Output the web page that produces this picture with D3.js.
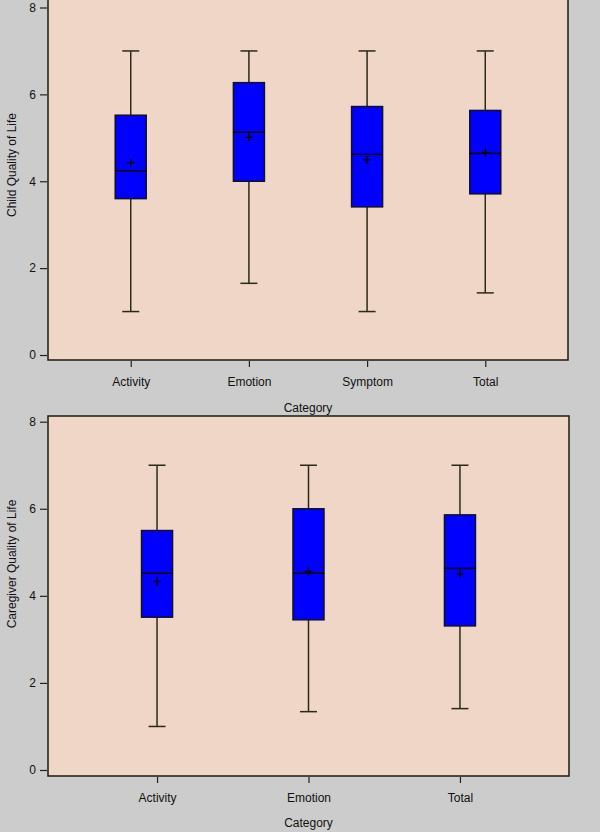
<!DOCTYPE html>
<html>
<head>
<meta charset="utf-8">
<script src="https://cdn.jsdelivr.net/npm/d3@7"></script>
<style>
  html, body { margin: 0; padding: 0; background: #cccccc; }
  svg { display: block; }
  text { font-family: "Liberation Sans", Arial, sans-serif; fill: #111; }
</style>
</head>
<body>
<svg id="chart" width="600" height="832"></svg>
<script>
// ---- Data ----
const yTicks = [0, 2, 4, 6, 8];

const childCategories = ["Activity", "Emotion", "Symptom", "Total"];
const childMin    = [1.0, 1.65, 1.0, 1.43];
const childQ1     = [3.6, 4.0, 3.41, 3.71];
const childMedian = [4.24, 5.13, 4.62, 4.64];
const childQ3     = [5.52, 6.27, 5.72, 5.63];
const childMax    = [7.0, 7.0, 7.0, 7.0];
const childMean   = [4.43, 5.01, 4.49, 4.66];

const careCategories = ["Activity", "Emotion", "Total"];
const careMin    = [1.0, 1.34, 1.41];
const careQ1     = [3.51, 3.45, 3.31];
const careMedian = [4.52, 4.52, 4.63];
const careQ3     = [5.5, 6.0, 5.86];
const careMax    = [7.0, 7.0, 7.0];
const careMean   = [4.33, 4.56, 4.5];

const svg = d3.select("#chart");

function drawPanel(cfg) {
  const g = svg.append("g");
  const x = d3.scalePoint().domain(cfg.categories).range([cfg.left, cfg.right]).padding(cfg.padding);
  const y = d3.scaleLinear().domain([0, 8]).range([cfg.y0, cfg.y8]);

  // plot background
  g.append("rect")
    .attr("x", cfg.left).attr("y", cfg.top)
    .attr("width", cfg.right - cfg.left).attr("height", cfg.bottom - cfg.top)
    .attr("fill", "#f0d6c6").attr("stroke", "#1a1a10").attr("stroke-width", 1.5);

  // y axis
  const yAxis = d3.axisLeft(y).tickValues(yTicks).tickSize(7).tickPadding(4).tickFormat(d3.format("d"));
  const ya = g.append("g").attr("transform", `translate(${cfg.left - 1},0)`).call(yAxis);
  ya.select(".domain").remove();
  ya.selectAll("line").attr("stroke", "#222").attr("stroke-width", 1.2);
  ya.selectAll("text").attr("font-size", 12).attr("fill", "#111");

  // x axis
  const xAxis = d3.axisBottom(x).tickSize(6).tickPadding(10);
  const xa = g.append("g").attr("transform", `translate(0,${cfg.bottom + 1})`).call(xAxis);
  xa.select(".domain").remove();
  xa.selectAll("line").attr("stroke", "#222").attr("stroke-width", 1.2);
  xa.selectAll("text").attr("font-size", 12).attr("fill", "#111");

  // titles
  g.append("text")
    .attr("transform", `translate(16,${cfg.yTitleY}) rotate(-90)`)
    .attr("text-anchor", "middle").attr("font-size", 12)
    .text(cfg.yTitle);
  g.append("text")
    .attr("x", (cfg.left + cfg.right) / 2).attr("y", cfg.xTitleY)
    .attr("text-anchor", "middle").attr("font-size", 12)
    .text("Category");

  const boxW = 31, capW = 17, crossR = 4;
  const data = cfg.categories.map((c, i) => ({
    c, min: cfg.min[i], q1: cfg.q1[i], med: cfg.median[i], q3: cfg.q3[i], max: cfg.max[i], mean: cfg.mean[i]
  }));

  const b = g.selectAll(".box").data(data).enter().append("g").attr("class", "box");
  const lineColor = "#2a2a1a";
  // whiskers
  b.append("line").attr("x1", d => x(d.c)).attr("x2", d => x(d.c))
    .attr("y1", d => y(d.max)).attr("y2", d => y(d.q3))
    .attr("stroke", lineColor).attr("stroke-width", 1.5);
  b.append("line").attr("x1", d => x(d.c)).attr("x2", d => x(d.c))
    .attr("y1", d => y(d.q1)).attr("y2", d => y(d.min))
    .attr("stroke", lineColor).attr("stroke-width", 1.5);
  // caps
  b.append("line").attr("x1", d => x(d.c) - capW / 2).attr("x2", d => x(d.c) + capW / 2)
    .attr("y1", d => y(d.max)).attr("y2", d => y(d.max))
    .attr("stroke", lineColor).attr("stroke-width", 1.5);
  b.append("line").attr("x1", d => x(d.c) - capW / 2).attr("x2", d => x(d.c) + capW / 2)
    .attr("y1", d => y(d.min)).attr("y2", d => y(d.min))
    .attr("stroke", lineColor).attr("stroke-width", 1.5);
  // box
  b.append("rect").attr("x", d => x(d.c) - boxW / 2).attr("width", boxW)
    .attr("y", d => y(d.q3)).attr("height", d => y(d.q1) - y(d.q3))
    .attr("fill", "#0000ff").attr("stroke", "#111122").attr("stroke-width", 1.5);
  // median
  b.append("line").attr("x1", d => x(d.c) - boxW / 2).attr("x2", d => x(d.c) + boxW / 2)
    .attr("y1", d => y(d.med)).attr("y2", d => y(d.med))
    .attr("stroke", "#000").attr("stroke-width", 1.5);
  // mean cross
  b.append("line").attr("x1", d => x(d.c) - crossR).attr("x2", d => x(d.c) + crossR)
    .attr("y1", d => y(d.mean)).attr("y2", d => y(d.mean))
    .attr("stroke", "#000").attr("stroke-width", 1.3);
  b.append("line").attr("x1", d => x(d.c)).attr("x2", d => x(d.c))
    .attr("y1", d => y(d.mean) - crossR).attr("y2", d => y(d.mean) + crossR)
    .attr("stroke", "#000").attr("stroke-width", 1.3);
}

drawPanel({
  categories: childCategories, min: childMin, q1: childQ1, median: childMedian, q3: childQ3, max: childMax, mean: childMean,
  left: 48, right: 568, top: -1, bottom: 360, y0: 355, y8: 7.5, padding: 0.7,
  yTitle: "Child Quality of Life", yTitleY: 165, xTitleY: 412
});

drawPanel({
  categories: careCategories, min: careMin, q1: careQ1, median: careMedian, q3: careQ3, max: careMax, mean: careMean,
  left: 48, right: 569, top: 416, bottom: 776, y0: 770, y8: 421.7, padding: 0.72,
  yTitle: "Caregiver Quality of Life", yTitleY: 564, xTitleY: 827
});
</script>
</body>
</html>
